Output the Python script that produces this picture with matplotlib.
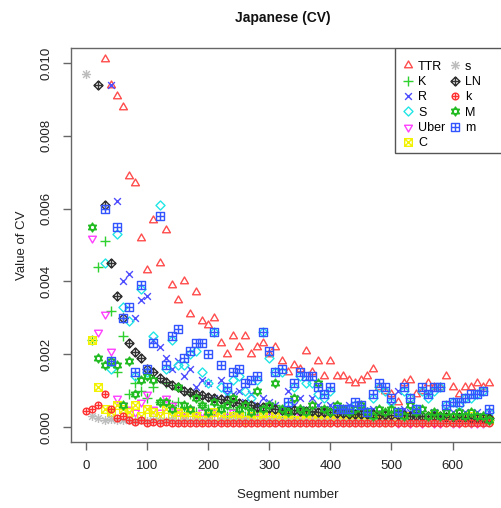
import numpy as np
import matplotlib
matplotlib.use("Agg")
import matplotlib.pyplot as plt
from matplotlib.path import Path
from matplotlib.patches import Rectangle

plt.rcParams['font.family'] = ['Liberation Sans', 'DejaVu Sans']

# segment numbers (one point every 10 segments)
segments = list(range(0, 670, 10))

TTR = [None, None, None, 0.0101, 0.0094, 0.0091, 0.0088, 0.0069, 0.0067, 0.0052,
       0.0043, 0.0057, 0.0045, 0.0054, 0.0039, 0.0035, 0.0040, 0.0031, 0.0037, 0.0029,
       0.0028, 0.0030, 0.0023, 0.0020, 0.0025, 0.0022, 0.0025, 0.0020, 0.0022, 0.0023,
       0.0020, 0.0022, 0.0018, 0.0015, 0.0017, 0.0016, 0.0021, 0.0015, 0.0018, 0.0014,
       0.0018, 0.0014, 0.0014, 0.0013, 0.0012, 0.0013, 0.0014, 0.0016, 0.0011, 0.0010,
       0.0009, 0.0007, 0.0012, 0.0013, 0.0009, 0.0010, 0.0012, 0.0011, 0.0011, 0.0014,
       0.0011, 0.0009, 0.0011, 0.0011, 0.0012, 0.0011, 0.0012]
K = [None, 0.0024, 0.0044, 0.0051, 0.0032, 0.0015, 0.0025, 0.0009, 0.0012, 0.0010,
     0.0008, 0.0011, 0.0007, 0.0012, 0.0006, 0.0007, 0.0005, 0.0009, 0.0004, 0.0006,
     0.0005, 0.0004, 0.0006, 0.0003, 0.0005, 0.0004, 0.0003, 0.0005, 0.0004, 0.0003,
     0.0004, 0.0006, 0.0003, 0.0004, 0.0003, 0.0005, 0.0003, 0.0004, 0.0002, 0.0004,
     0.0003, 0.0003, 0.0004, 0.0002, 0.0003, 0.0004, 0.0002, 0.0003, 0.0003, 0.0002,
     0.0004, 0.0003, 0.0002, 0.0003, 0.0002, 0.0003, 0.0002, 0.0003, 0.0002, 0.0003,
     0.0002, 0.0002, 0.0003, 0.0002, 0.0002, 0.0003, 0.0002]
R = [None, None, None, None, 0.0094, 0.0062, 0.0040, 0.0042, 0.0030, 0.0035,
     0.0036, 0.0024, 0.0022, 0.0019, 0.0016, 0.0018, 0.0014, 0.0016, 0.0011, 0.0013,
     0.0012, 0.0008, 0.0013, 0.0009, 0.0009, 0.0010, 0.0007, 0.0009, 0.0006, 0.0008,
     0.0007, 0.0006, 0.0005, 0.0010, 0.0006, 0.0008, 0.0005, 0.0008, 0.0006, 0.0005,
     0.0006, 0.0004, 0.0005, 0.0006, 0.0004, 0.0005, 0.0003, 0.0005, 0.0004, 0.0003,
     0.0006, 0.0010, 0.0005, 0.0004, 0.0005, 0.0004, 0.0009, 0.0004, 0.0003, 0.0005,
     0.0004, 0.0003, 0.0004, 0.0003, 0.0004, 0.0003, 0.0004]
S = [None, None, None, 0.0045, 0.0016, 0.0053, 0.0033, 0.0029, 0.0014, 0.0038,
     0.0015, 0.0025, 0.0061, 0.0016, 0.0024, 0.0017, 0.0017, 0.0020, 0.0021, 0.0015,
     0.0012, 0.0026, 0.0011, 0.0010, 0.0013, 0.0014, 0.0010, 0.0008, 0.0013, 0.0026,
     0.0019, 0.0015, 0.0015, 0.0006, 0.0011, 0.0014, 0.0012, 0.0012, 0.0009, 0.0008,
     0.0010, 0.0005, 0.0004, 0.0005, 0.0006, 0.0005, 0.0004, 0.0008, 0.0011, 0.0010,
     0.0007, 0.0004, 0.0010, 0.0008, 0.0005, 0.0010, 0.0008, 0.0010, 0.0011, 0.0006,
     0.0007, 0.0006, 0.0008, 0.0008, 0.0009, 0.0010, 0.0004]
Uber = [None, 0.0052, 0.0026, 0.0031, 0.0021, 0.0008, 0.0006, 0.0005, 0.0004, 0.0007,
        0.0009, 0.0005, 0.0004, 0.0008, 0.0006, 0.0004, 0.0003, 0.0005, 0.0003, 0.0004,
        0.0003, 0.0004, 0.0002, 0.0003, 0.0004, 0.0003, 0.0002, 0.0003, 0.0004, 0.0002,
        0.0003, 0.0002, 0.0003, 0.0002, 0.0003, 0.0002, 0.0003, 0.0002, 0.0002, 0.0003,
        0.0002, 0.0003, 0.0002, 0.0002, 0.0003, 0.0002, 0.0002, 0.0003, 0.0002, 0.0002,
        0.0002, 0.0001, 0.0002, 0.0001, 0.0002, 0.0001, 0.0002, 0.0001, 0.0001, 0.0002,
        0.0001, 0.0001, 0.0002, 0.0001, 0.0001, 0.0001, 0.0002]
C = [None, 0.0024, 0.0011, 0.0005, 0.0004, 0.0006, 0.0005, 0.0004, 0.0006, 0.0003,
     0.0005, 0.0004, 0.0003, 0.0005, 0.0003, 0.0004, 0.0003, 0.0004, 0.0003, 0.0002,
     0.0003, 0.0004, 0.0003, 0.0002, 0.0003, 0.0003, 0.0002, 0.0003, 0.0002, 0.0003,
     0.0002, 0.0003, 0.0002, 0.0003, 0.0002, 0.0002, 0.0003, 0.0002, 0.0003, 0.0002,
     0.0002, 0.0003, 0.0002, 0.0002, 0.0003, 0.0002, 0.0002, 0.0002, 0.0003, 0.0002,
     0.0002, 0.0002, 0.0003, 0.0002, 0.0002, 0.0002, 0.0002, 0.0003, 0.0002, 0.0002,
     0.0002, 0.0002, 0.0002, 0.0003, 0.0002, 0.0002, 0.0002]
s = [0.0097, 0.0003, 0.00025, 0.0002, 0.00022, 0.0002, 0.00018, 0.0002, 0.00017, 0.00019,
     0.00016, 0.00018, 0.00017, 0.00016, 0.00018, 0.00015, 0.00017, 0.00016, 0.00015, 0.00017,
     0.00016, 0.00015, 0.00016, 0.00015, 0.00016, 0.00014, 0.00016, 0.00015, 0.00014, 0.00015,
     0.00016, 0.00014, 0.00015, 0.00014, 0.00015, 0.00014, 0.00015, 0.00014, 0.00015, 0.00013,
     0.00014, 0.00015, 0.00013, 0.00014, 0.00013, 0.00014, 0.00013, 0.00014, 0.00013, 0.00014,
     0.00013, 0.00014, 0.00013, 0.00013, 0.00014, 0.00013, 0.00013, 0.00014, 0.00013, 0.00013,
     0.00012, 0.00013, 0.00013, 0.00012, 0.00013, 0.00012, 0.00013]
LN = [None, None, 0.0094, 0.0061, 0.0045, 0.0036, 0.0030, 0.0023, 0.00205, 0.0019,
      0.0016, 0.0015, 0.00135, 0.00125, 0.00115, 0.0011, 0.0010, 0.00097, 0.00092, 0.00087,
      0.00083, 0.0008, 0.00077, 0.00074, 0.0007, 0.00067, 0.00063, 0.0006, 0.00056, 0.00054,
      0.00052, 0.0005, 0.00048, 0.00047, 0.00046, 0.00045, 0.00044, 0.00043, 0.00042, 0.00041,
      0.0004, 0.00039, 0.00038, 0.00037, 0.00036, 0.00036, 0.00035, 0.00035, 0.00034, 0.00033,
      0.00033, 0.00032, 0.00032, 0.00031, 0.00031, 0.0003, 0.0003, 0.00029, 0.00029, 0.00028,
      0.00028, 0.00027, 0.00027, 0.00026, 0.00026, 0.00025, 0.00025]
k = [0.00045, 0.0005, 0.0006, 0.0009, 0.0005, 0.00025, 0.0003, 0.0002, 0.00015, 0.0002,
     0.00012, 0.00015, 0.0001, 0.00013, 0.00011, 0.00012, 0.0001, 0.00012, 0.0001, 0.00011,
     0.0001, 0.00012, 0.0001, 0.00011, 0.0001, 0.0001, 0.00012, 0.0001, 0.00011, 0.0001,
     0.0001, 0.00011, 0.0001, 0.0001, 0.00012, 0.0001, 0.0001, 0.00011, 0.0001, 0.0001,
     0.00011, 0.0001, 0.0001, 0.0001, 0.00011, 0.0001, 0.0001, 0.0001, 0.00011, 0.0001,
     0.0001, 0.0001, 0.0001, 0.00011, 0.0001, 0.0001, 0.0001, 0.0001, 0.0001, 0.00011,
     0.0001, 0.0001, 0.0001, 0.0001, 0.0001, 0.0001, 0.0001]
M = [None, 0.0055, 0.0019, 0.0017, 0.0018, 0.0017, 0.0006, 0.0018, 0.0009, 0.0013,
     0.0014, 0.0013, 0.0007, 0.0007, 0.0005, 0.0011, 0.0006, 0.0005, 0.0008, 0.0006,
     0.0004, 0.0007, 0.0005, 0.0006, 0.0008, 0.0005, 0.0006, 0.0004, 0.0010, 0.0005,
     0.0006, 0.0012, 0.0005, 0.0004, 0.0008, 0.0005, 0.0004, 0.0006, 0.0012, 0.0005,
     0.0004, 0.0006, 0.0005, 0.0004, 0.0005, 0.0006, 0.0004, 0.0003, 0.0005, 0.0004,
     0.0005, 0.0004, 0.0003, 0.0006, 0.0004, 0.0005, 0.0003, 0.0004, 0.0003, 0.0004,
     0.0003, 0.0004, 0.0003, 0.0004, 0.0003, 0.0003, 0.0002]
m = [None, None, None, 0.0060, 0.0018, 0.0055, 0.0030, 0.0033, 0.0015, 0.0039,
     0.0016, 0.0023, 0.0058, 0.0017, 0.0025, 0.0027, 0.0019, 0.0021, 0.0023, 0.0023,
     0.0020, 0.0026, 0.0017, 0.0011, 0.0015, 0.0016, 0.0012, 0.0013, 0.0014, 0.0026,
     0.0021, 0.0015, 0.0016, 0.0007, 0.0012, 0.0015, 0.0014, 0.0014, 0.0011, 0.0009,
     0.0011, 0.0005, 0.0005, 0.0005, 0.0007, 0.0006, 0.0004, 0.0009, 0.0012, 0.0011,
     0.0008, 0.0004, 0.0011, 0.0008, 0.0005, 0.0011, 0.0009, 0.0011, 0.0011, 0.0006,
     0.0007, 0.0007, 0.0008, 0.0009, 0.0009, 0.0010, 0.0005]

# R-like point symbols built as paths
MV, LT, CL = Path.MOVETO, Path.LINETO, Path.CLOSEPOLY
square = Path([(-1, -1), (1, -1), (1, 1), (-1, 1), (-1, -1)], [MV, LT, LT, LT, CL])
diamond = Path([(0, -1), (1, 0), (0, 1), (-1, 0), (0, -1)], [MV, LT, LT, LT, CL])
tri_up = Path([(0, 1), (0.87, -0.5), (-0.87, -0.5), (0, 1)], [MV, LT, LT, CL])
tri_dn = Path([(0, -1), (0.87, 0.5), (-0.87, 0.5), (0, -1)], [MV, LT, LT, CL])
plus = Path([(-1, 0), (1, 0), (0, -1), (0, 1)], [MV, LT, MV, LT])
cross = Path([(-0.75, -0.75), (0.75, 0.75), (-0.75, 0.75), (0.75, -0.75)], [MV, LT, MV, LT])
cross_full = Path([(-1, -1), (1, 1), (-1, 1), (1, -1)], [MV, LT, MV, LT])
circle = Path.unit_circle()
both = Path.make_compound_path

series = [
    ("TTR", TTR, tri_up, "#ff4d4d", 6.5),
    ("K", K, plus, "#2ed12e", 6.5),
    ("R", R, both(cross, Path([(0, 1), (0, 1)], [MV, LT])), "#4d4dff", 6.5),
    ("S", S, diamond, "#22e5e5", 6.5),
    ("Uber", Uber, tri_dn, "#ff40ff", 6.5),
    ("C", C, both(square, cross_full), "#f2f200", 5.5),
    ("s", s, both(plus, cross), "#bdbdbd", 6.5),
    ("LN", LN, both(diamond, plus), "#333333", 6.5),
    ("k", k, both(circle, plus), "#ff3030", 4.8),
    ("M", M, both(tri_up, tri_dn), "#22bb22", 6.5),
    ("m", m, both(square, plus), "#3355ff", 5.5),
]

fig = plt.figure(figsize=(5.01, 5.08), dpi=100)
ax = fig.add_axes([71 / 501, 66 / 508, 434 / 501, 394 / 508])

x = np.array(segments, dtype=float)
handles = []
for name, vals, mk, col, size in series:
    y = np.array([np.nan if v is None else v for v in vals], dtype=float)
    h, = ax.plot(x, y, linestyle='none', marker=mk, markersize=size,
                 markerfacecolor='none', markeredgecolor=col, markeredgewidth=1.0,
                 label=name)
    handles.append(h)

ax.set_xlim(-25, 686)
ax.set_ylim(-0.000412, 0.010412)
ax.set_xticks([0, 100, 200, 300, 400, 500, 600])
ax.set_yticks([0.0, 0.002, 0.004, 0.006, 0.008, 0.010])
ax.set_yticklabels(["0.000", "0.002", "0.004", "0.006", "0.008", "0.010"],
                   rotation=90, va='center')
ax.tick_params(direction='out', length=6, width=1, color='#666666',
               labelsize=9.5, labelcolor='#222222', pad=7)

for sp in ax.spines.values():
    sp.set_color('#666666')
    sp.set_linewidth(1.0)

ax.set_xlabel("Segment number", fontsize=9.5, color='#222222')
ax.xaxis.set_label_coords(0.5, -0.12)
ax.set_ylabel("Value of CV", fontsize=9.5, color='#222222')
ax.yaxis.set_label_coords(-0.10, 0.5)

fig.text(283 / 501, 1 - 18 / 508, "Japanese (CV)", ha='center', va='center',
         fontsize=10, fontweight='bold', color='#111111')

# legend box drawn separately (R sizes columns by the widest label)
box = Rectangle((0.7465, 0.7335), 0.2535, 0.2665, transform=ax.transAxes,
                facecolor='white', edgecolor='#555555', linewidth=1.0, zorder=4)
ax.add_patch(box)
leg = ax.legend(handles=handles, loc='upper left', bbox_to_anchor=(0.736, 1.0),
                ncol=2, fontsize=9, frameon=False, borderaxespad=0,
                handlelength=0.8, handletextpad=0.42, columnspacing=0.34,
                labelspacing=0.27, borderpad=1.0)
leg.set_zorder(5)

fig.savefig("out.png", dpi=100)
